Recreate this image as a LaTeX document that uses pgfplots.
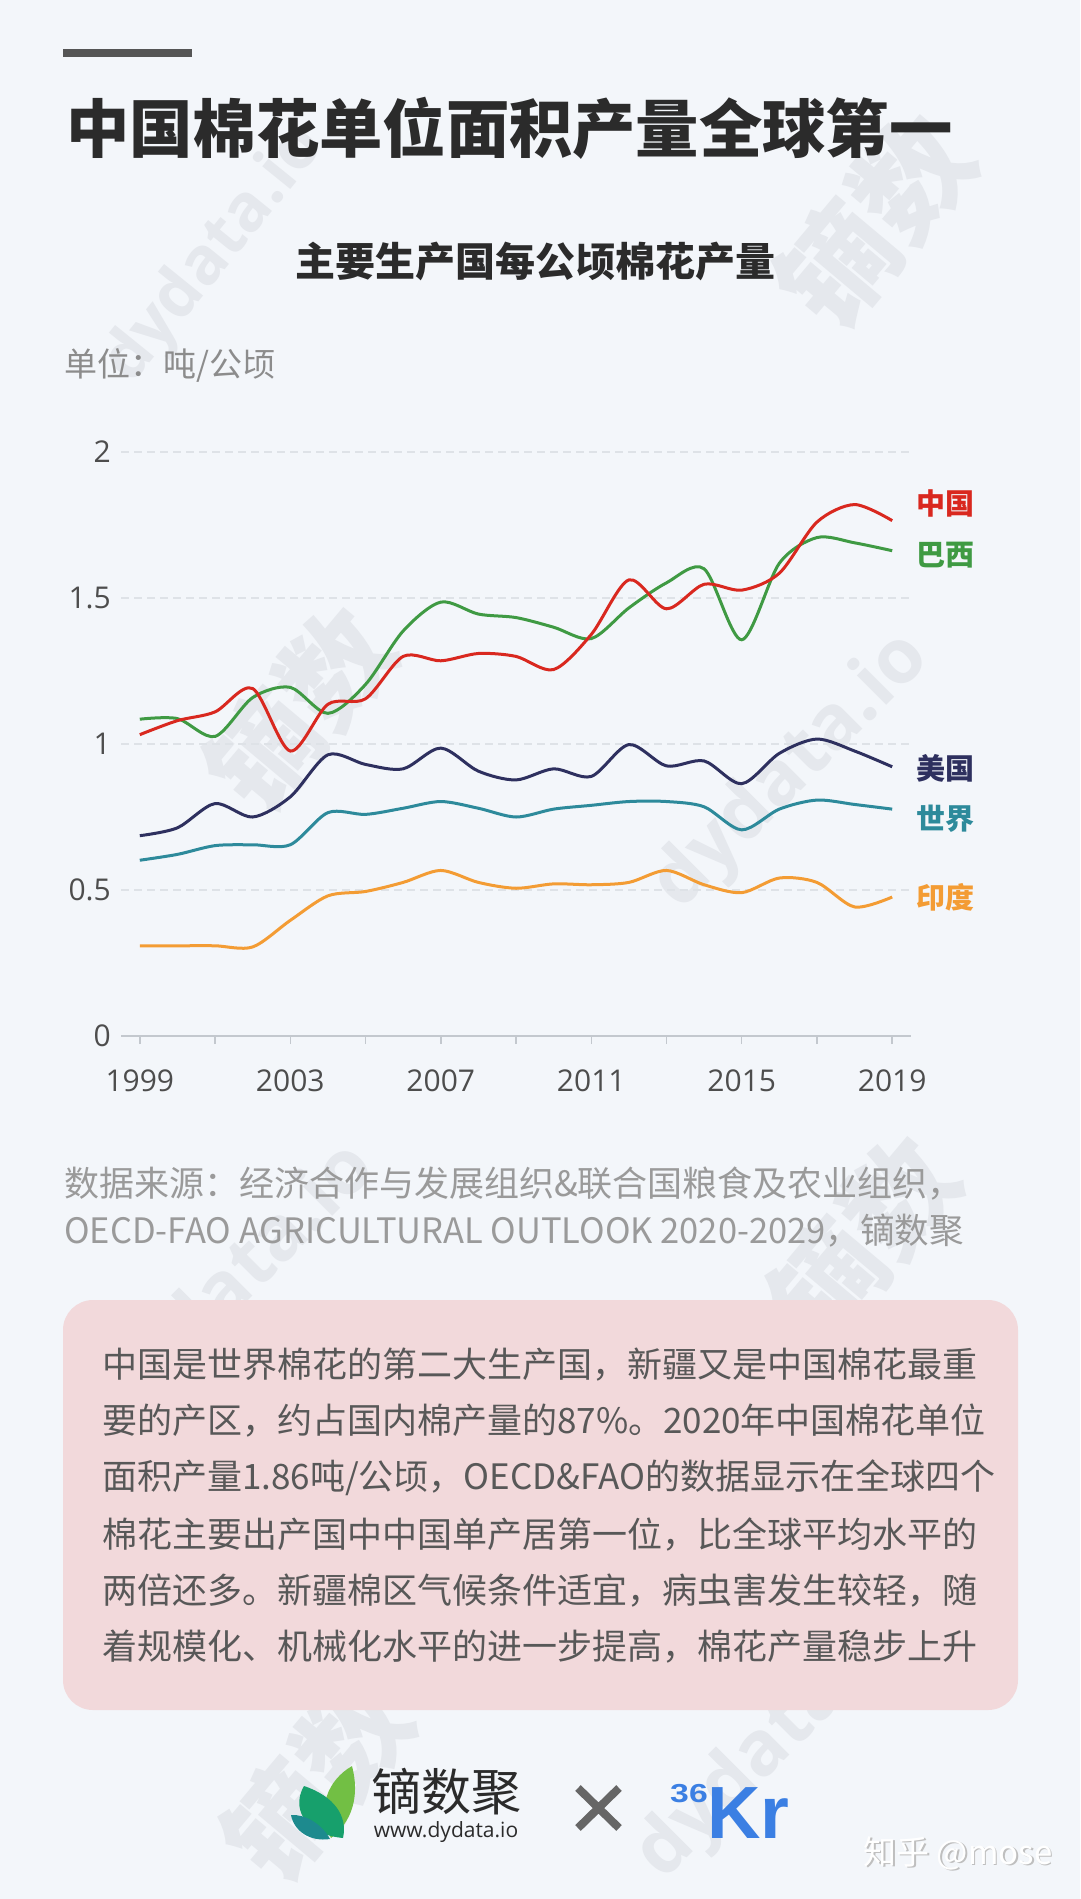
\documentclass[border=0pt]{standalone}
\usepackage{fontspec}
\usepackage{pgfplots}
\pgfplotsset{compat=1.18}
\newfontfamily\cjk{Noto Sans CJK SC}
\newfontfamily\osans{Open Sans}
\newfontfamily\lsans{Liberation Sans}
\XeTeXlinebreaklocale "zh"
\XeTeXlinebreakskip = 0pt plus 3pt minus 1.5pt
\definecolor{bg}{HTML}{F3F6FA}
\definecolor{wm}{HTML}{E5E8ED}
\definecolor{titlec}{HTML}{2B2B2B}
\definecolor{barc}{HTML}{555555}
\definecolor{unitc}{HTML}{8C8C8C}
\definecolor{srcc}{HTML}{9A9A9A}
\definecolor{pinkc}{HTML}{F2D9DB}
\definecolor{boxt}{HTML}{585858}
\definecolor{axgray}{HTML}{C3C8CE}
\definecolor{gridc}{HTML}{DEE2E7}
\definecolor{tickt}{HTML}{4D4D4D}
\definecolor{cnc}{HTML}{D9281F}
\definecolor{brc}{HTML}{3F9A43}
\definecolor{usc}{HTML}{2E305F}
\definecolor{wdc}{HTML}{2D8A9B}
\definecolor{inc}{HTML}{F39C34}
\definecolor{leafa}{HTML}{72BF44}
\definecolor{leafb}{HTML}{17A06C}
\definecolor{leafc}{HTML}{1D8A8E}
\definecolor{krc}{HTML}{3B7FE3}
\begin{document}
\begin{tikzpicture}
\useasboundingbox (0pt,0pt) rectangle (1080pt,-1899pt);
\fill[bg] (0pt,0pt) rectangle (1080pt,-1899pt);
% watermarks
\begin{scope}[every node/.style={text=wm, inner sep=0pt}]
\node[rotate=51] at (215pt,-255pt) {\osans\bfseries\fontsize{66pt}{70pt}\selectfont dydata.io};
\node[rotate=50] at (875pt,-221pt) {\cjk\bfseries\fontsize{115pt}{120pt}\selectfont 镝数};
\node[rotate=50] at (300pt,-709pt) {\cjk\bfseries\fontsize{110pt}{115pt}\selectfont 镝数};
\node[rotate=45] at (792pt,-772pt) {\osans\bfseries\fontsize{76pt}{80pt}\selectfont dydata.io};
\node[rotate=45] at (238pt,-1283pt) {\osans\bfseries\fontsize{76pt}{80pt}\selectfont dydata.io};
\node[rotate=50] at (864pt,-1238pt) {\cjk\bfseries\fontsize{110pt}{115pt}\selectfont 镝数};
\node[rotate=50] at (317pt,-1779pt) {\cjk\bfseries\fontsize{110pt}{115pt}\selectfont 镝数};
\node[rotate=45] at (775pt,-1742pt) {\osans\bfseries\fontsize{76pt}{80pt}\selectfont dydata.io};
\end{scope}
% header
\fill[barc] (63pt,-49pt) rectangle (192pt,-57pt);
\node[anchor=west, inner sep=0pt, text=titlec] at (66pt,-128pt) {\cjk\bfseries\fontsize{63.3pt}{70pt}\selectfont 中国棉花单位面积产量全球第一};
\node[inner sep=0pt, text=titlec] at (535pt,-261pt) {\cjk\bfseries\fontsize{40pt}{48pt}\selectfont 主要生产国每公顷棉花产量};
\node[anchor=west, inner sep=0pt, text=unitc] at (64pt,-365pt) {\cjk\fontsize{33pt}{40pt}\selectfont 单位：吨/公顷};
% chart
\begin{axis}[
  at={(121pt,-1036pt)}, anchor=south west,
  scale only axis, width=790pt, height=584pt,
  xmin=1998.5, xmax=2019.5, ymin=0, ymax=2,
  axis x line*=bottom, axis y line*=left,
  x axis line style={draw=axgray, line width=1.5pt, -},
  y axis line style={draw=none},
  xtick={1999,2001,...,2019},
  xticklabels={1999,,2003,,2007,,2011,,2015,,2019},
  ytick={0,0.5,1,1.5,2},
  yticklabels={0,0.5,1,1.5,2},
  tick align=outside,
  major tick length=8pt,
  x tick style={draw=axgray, line width=1.5pt},
  y tick style={draw=none},
  ymajorgrids,
  grid style={draw=gridc, line width=1.2pt, dash pattern=on 8pt off 5pt},
  /pgf/number format/assume math mode=true,
  tick label style={font=\osans\fontsize{30pt}{36pt}\selectfont, text=tickt},
  xticklabel style={anchor=north, inner sep=0pt, yshift=-26pt},
  yticklabel style={anchor=east, inner sep=0pt, xshift=-2pt},
  clip=false,
]
\addplot[inc, line width=3pt, smooth] coordinates {
(1999,0.309) (2000,0.309) (2001,0.309) (2002,0.305) (2003,0.396) (2004,0.480) (2005,0.495)
(2006,0.526) (2007,0.567) (2008,0.526) (2009,0.506) (2010,0.521) (2011,0.518) (2012,0.526)
(2013,0.567) (2014,0.518) (2015,0.491) (2016,0.541) (2017,0.526) (2018,0.442) (2019,0.476)};
\addplot[wdc, line width=3pt, smooth] coordinates {
(1999,0.602) (2000,0.622) (2001,0.652) (2002,0.655) (2003,0.655) (2004,0.765) (2005,0.759)
(2006,0.780) (2007,0.803) (2008,0.780) (2009,0.750) (2010,0.777) (2011,0.790) (2012,0.803)
(2013,0.803) (2014,0.785) (2015,0.706) (2016,0.777) (2017,0.808) (2018,0.793) (2019,0.777)};
\addplot[usc, line width=3pt, smooth] coordinates {
(1999,0.686) (2000,0.713) (2001,0.796) (2002,0.750) (2003,0.819) (2004,0.963) (2005,0.930)
(2006,0.915) (2007,0.986) (2008,0.907) (2009,0.877) (2010,0.915) (2011,0.889) (2012,0.998)
(2013,0.925) (2014,0.942) (2015,0.864) (2016,0.968) (2017,1.017) (2018,0.976) (2019,0.922)};
\addplot[brc, line width=3pt, smooth] coordinates {
(1999,1.085) (2000,1.087) (2001,1.026) (2002,1.159) (2003,1.194) (2004,1.105) (2005,1.204)
(2006,1.387) (2007,1.486) (2008,1.445) (2009,1.433) (2010,1.400) (2011,1.361) (2012,1.466)
(2013,1.552) (2014,1.600) (2015,1.357) (2016,1.619) (2017,1.707) (2018,1.689) (2019,1.662)};
\addplot[cnc, line width=3pt, smooth] coordinates {
(1999,1.032) (2000,1.080) (2001,1.110) (2002,1.190) (2003,0.976) (2004,1.136) (2005,1.155)
(2006,1.300) (2007,1.285) (2008,1.310) (2009,1.300) (2010,1.255) (2011,1.375) (2012,1.562)
(2013,1.463) (2014,1.547) (2015,1.527) (2016,1.585) (2017,1.760) (2018,1.820) (2019,1.765)};
\end{axis}
% series labels
\begin{scope}[every node/.style={anchor=west, inner sep=0pt, font=\cjk\bfseries\fontsize{29pt}{34pt}\selectfont}]
\node[text=cnc] at (916pt,-503pt) {中国};
\node[text=brc] at (916pt,-555pt) {巴西};
\node[text=usc] at (916pt,-768pt) {美国};
\node[text=wdc] at (916pt,-819pt) {世界};
\node[text=inc] at (916pt,-897pt) {印度};
\end{scope}
% source
\node[anchor=west, inner sep=0pt, text=srcc] at (64pt,-1184pt) {\cjk\fontsize{35pt}{40pt}\selectfont\makebox[952pt][s]{数据来源：经济合作与发展组织\&联合国粮食及农业组织，}};
\node[anchor=west, inner sep=0pt, text=srcc] at (64pt,-1231pt) {\cjk\fontsize{35pt}{40pt}\selectfont\scalebox{0.985}[1]{OECD-FAO AGRICULTURAL OUTLOOK 2020-2029，镝数聚}};
% pink box
\fill[pinkc, rounded corners=30pt] (63pt,-1300pt) rectangle (1018pt,-1710pt);
\begin{scope}[every node/.style={anchor=west, inner sep=0pt, text=boxt, font=\cjk\fontsize{35pt}{40pt}\selectfont}]
\node at (102pt,-1365pt) {\makebox[876pt][s]{中国是世界棉花的第二大生产国，新疆又是中国棉花最重}};
\node at (102pt,-1421pt) {\makebox[876pt][s]{要的产区，约占国内棉产量的87\%。2020年中国棉花单位}};
\node at (102pt,-1478pt) {\makebox[876pt][s]{面积产量1.86吨/公顷，OECD\&FAO的数据显示在全球四个}};
\node at (102pt,-1534pt) {\makebox[876pt][s]{棉花主要出产国中中国单产居第一位，比全球平均水平的}};
\node at (102pt,-1591pt) {\makebox[876pt][s]{两倍还多。新疆棉区气候条件适宜，病虫害发生较轻，随}};
\node at (102pt,-1647pt) {\makebox[852pt][s]{着规模化、机械化水平的进一步提高，棉花产量稳步上升}};
\end{scope}
% logos
\fill[leafa] (331pt,-1838pt) .. controls (316pt,-1808pt) and (328pt,-1780pt) .. (352pt,-1766pt) .. controls (360pt,-1796pt) and (352pt,-1822pt) .. cycle;
\fill[leafb] (343pt,-1838pt) .. controls (302pt,-1834pt) and (292pt,-1806pt) .. (304pt,-1786pt) .. controls (334pt,-1796pt) and (348pt,-1816pt) .. cycle;
\fill[leafc] (330pt,-1839pt) .. controls (310pt,-1842pt) and (294pt,-1831pt) .. (291pt,-1815pt) .. controls (305pt,-1814pt) and (322pt,-1824pt) .. cycle;
\node[inner sep=0pt, text=titlec] at (446pt,-1792pt) {\cjk\fontsize{50pt}{56pt}\selectfont 镝数聚};
\node[inner sep=0pt, text=titlec] at (446pt,-1832pt) {\osans\fontsize{21pt}{24pt}\selectfont www.dydata.io};
\draw[barc!90, line width=8pt] (578pt,-1788pt) -- (619pt,-1828pt) (619pt,-1788pt) -- (578pt,-1828pt);
\node[anchor=base west, inner sep=0pt, text=krc] at (670pt,-1802pt) {\lsans\bfseries\fontsize{26pt}{28pt}\selectfont\scalebox{1.3}[1]{36}};
\node[anchor=base west, inner sep=0pt, text=krc] at (707pt,-1838pt) {\lsans\bfseries\fontsize{74pt}{80pt}\selectfont Kr};
\node[inner sep=0pt, text=black!25] at (959.5pt,-1854.5pt) {\cjk\fontsize{33pt}{38pt}\selectfont 知乎 @mose};
\node[inner sep=0pt, text=white] at (958pt,-1853pt) {\cjk\fontsize{33pt}{38pt}\selectfont 知乎 @mose};
\end{tikzpicture}
\end{document}
